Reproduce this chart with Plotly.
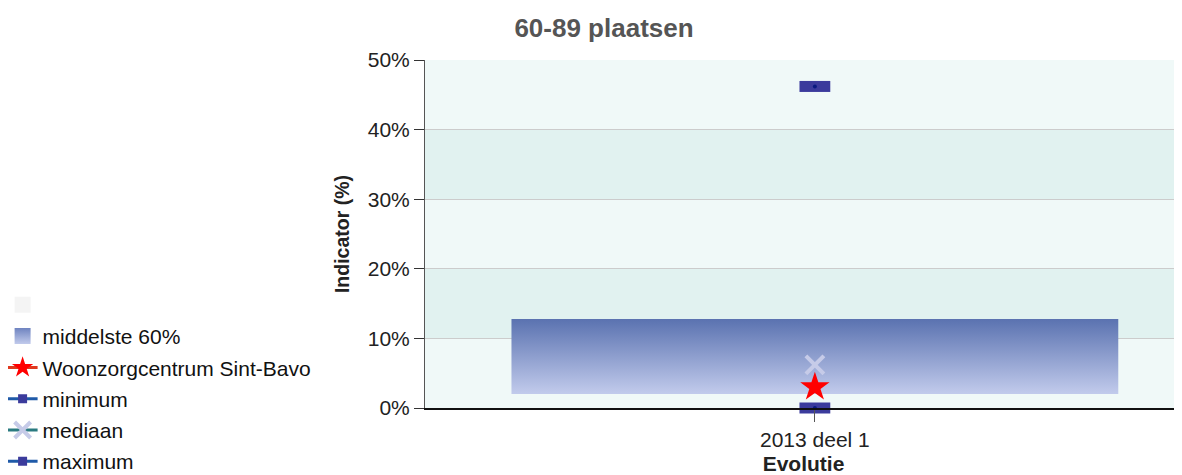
import plotly.graph_objects as go

categories = ["2013 deel 1"]
p20 = [2.0]
p80 = [12.8]
facility = [3.0]
minimum = [0.0]
median = [6.2]
maximum = [46.2]
y_ticks = [0, 10, 20, 30, 40, 50]
y_tick_labels = ["0%", "10%", "20%", "30%", "40%", "50%"]

xpos = list(range(len(categories)))
hw = 0.4

fig = go.Figure()

# blank legend entry
fig.add_trace(go.Scatter(x=[None], y=[None], mode="markers",
                         marker=dict(symbol="square", size=16, color="#f4f4f4"),
                         name=" ", legendgroup="g0", hoverinfo="skip"))

# middle 60% box (drawn) + legend swatch
bx, by = [], []
for i, (lo, hi) in enumerate(zip(p20, p80)):
    bx += [i - hw, i + hw, i + hw, i - hw, i - hw, None]
    by += [lo, lo, hi, hi, lo, None]
fig.add_trace(go.Scatter(x=bx, y=by, mode="lines", fill="toself",
                         line=dict(width=0, color="rgba(0,0,0,0)"),
                         fillgradient=dict(type="vertical",
                                           colorscale=[[0, "#c2cbec"], [1, "#5a72b0"]]),
                         showlegend=False, hoverinfo="skip"))
fig.add_trace(go.Scatter(x=[None], y=[None], mode="markers",
                         marker=dict(symbol="square", size=16, color="#6f84c0",
                                     gradient=dict(type="vertical", color="#c2cbec")),
                         name="middelste 60%", legendgroup="g1"))

fig.add_trace(go.Scatter(x=xpos, y=facility, mode="lines+markers", cliponaxis=False,
                         line=dict(color="#e0391e", width=3),
                         marker=dict(symbol="star", size=22, color="#ff0000"),
                         name="Woonzorgcentrum Sint-Bavo", legendgroup="g2"))

fig.add_trace(go.Scatter(x=xpos, y=minimum, mode="lines+markers", cliponaxis=False,
                         line=dict(color="#1f5aa8", width=3),
                         marker=dict(symbol="square", size=9, color="#3b3b9c",
                                     line=dict(width=0)),
                         name="minimum", legendgroup="g3"))

fig.add_trace(go.Scatter(x=xpos, y=median, mode="lines+markers", cliponaxis=False,
                         line=dict(color="#2a7a80", width=3),
                         marker=dict(symbol="x-thin-open", size=18, color="#c6cbe8",
                                     line=dict(width=4, color="#c6cbe8")),
                         name="mediaan", legendgroup="g4"))

fig.add_trace(go.Scatter(x=xpos, y=maximum, mode="lines+markers", cliponaxis=False,
                         line=dict(color="#1f5aa8", width=3),
                         marker=dict(symbol="square", size=9, color="#3b3b9c",
                                     line=dict(width=0)),
                         name="maximum", legendgroup="g5"))

# rectangular min/max markers in plot
for vals in (minimum, maximum):
    fig.add_trace(go.Scatter(x=xpos, y=vals, mode="markers", cliponaxis=False,
                             marker=dict(symbol="line-ew", size=22,
                                         line=dict(width=11, color="#3b3b9c")),
                             showlegend=False, hoverinfo="skip"))
    fig.add_trace(go.Scatter(x=xpos, y=vals, mode="markers", cliponaxis=False,
                             marker=dict(symbol="circle", size=4, color="#0a1a80"),
                             showlegend=False, hoverinfo="skip"))

# background bands
bands = []
for k in range(5):
    bands.append(dict(type="rect", xref="paper", yref="y", x0=0, x1=1,
                      y0=k * 10, y1=(k + 1) * 10, layer="below", line=dict(width=0),
                      fillcolor="#f0f9f8" if k % 2 == 0 else "#e1f2f0"))

W, H = 1174, 467
fig.update_layout(
    width=W, height=H,
    margin=dict(l=417, r=0, t=52, b=67, autoexpand=False),
    paper_bgcolor="white", plot_bgcolor="white",
    font=dict(family="Liberation Sans, Arial, sans-serif", size=21, color="#222"),
    title=dict(text="<b>60-89 plaatsen</b>", x=596 / W, xanchor="center",
               y=1 - 20 / H, yanchor="middle",
               font=dict(size=26, color="#555")),
    shapes=bands,
    showlegend=True,
    legend=dict(x=-0.558, xanchor="left", y=0.3545, yanchor="top",
                traceorder="grouped", tracegroupgap=1,
                font=dict(size=21, color="#111"), bgcolor="rgba(0,0,0,0)"),
    xaxis=dict(range=[-0.514, 0.484], tickvals=xpos, ticktext=categories,
               showgrid=False, zeroline=False, showline=True, linecolor="#111",
               linewidth=1.5, ticks="outside", ticklen=12, tickcolor="#555",
               title=dict(text="<b>Evolutie</b>", standoff=8, font=dict(size=21))),
    yaxis=dict(range=[0, 50], tickvals=y_ticks, ticktext=y_tick_labels,
               showgrid=True, gridcolor="#cccccc", gridwidth=1, zeroline=False,
               showline=True, linecolor="#555", linewidth=1,
               ticks="outside", ticklen=10, tickcolor="#333",
               title=dict(text="<b>Indicator (%)</b>", standoff=12, font=dict(size=19.5))),
)

fig.write_html("out.html")
